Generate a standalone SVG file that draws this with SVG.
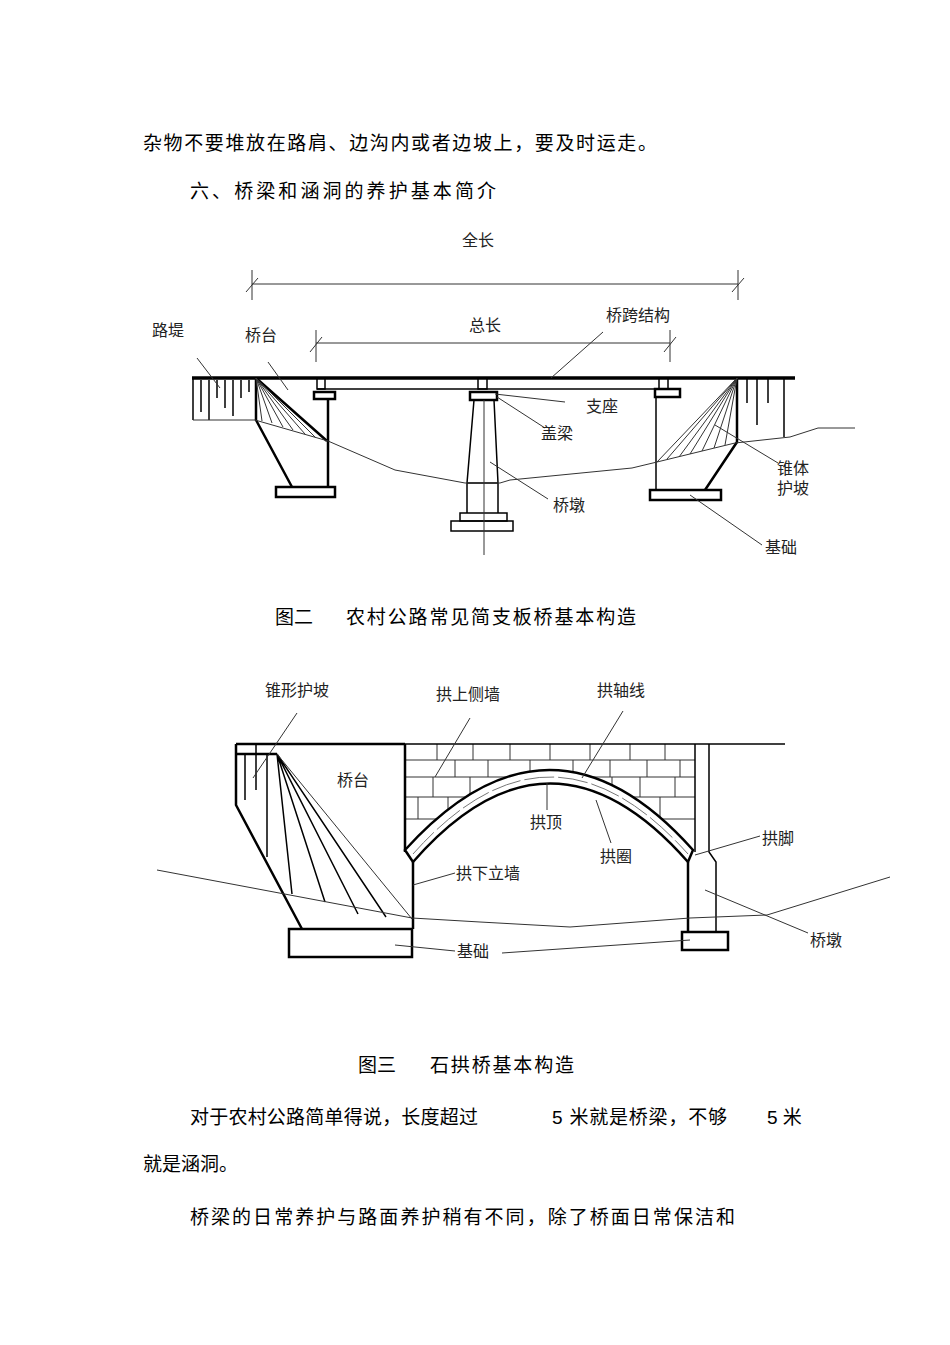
<svg xmlns="http://www.w3.org/2000/svg" width="950" height="1345" viewBox="0 0 950 1345">
<defs>
<style>
.t{font-family:"Liberation Sans","Noto Sans CJK SC",sans-serif;font-size:19px;fill:#000}
.l{font-family:"Liberation Sans","Noto Sans CJK SC",sans-serif;font-size:16px;fill:#222}
.k{stroke:#000;stroke-width:2.5;fill:none}
.m{stroke:#000;stroke-width:1.5;fill:none}
.n{stroke:#333;stroke-width:1;fill:none}
.w{stroke:#000;stroke-width:2.5;fill:#fff}
</style>
<clipPath id="mas"><path d="M405,744 H695 V852 L693,850 Q550,690 405,850 Z"/></clipPath>
</defs>
<rect width="950" height="1345" fill="#fff"/>
<g id="text">
<text class="t" x="143" y="150" textLength="514">杂物不要堆放在路肩、边沟内或者边坡上，要及时运走。</text>
<text class="t" x="190" y="198" textLength="306">六、桥梁和涵洞的养护基本简介</text>
<text class="t" x="275" y="624">图二</text>
<text class="t" x="346" y="624" textLength="290">农村公路常见简支板桥基本构造</text>
<text class="t" x="358" y="1072">图三</text>
<text class="t" x="430" y="1072" textLength="144">石拱桥基本构造</text>
<text class="t" x="190" y="1124" textLength="288">对于农村公路简单得说，长度超过</text>
<text class="t" x="552" y="1124" textLength="175">5 米就是桥梁，不够</text>
<text class="t" x="767" y="1124">5 米</text>
<text class="t" x="143" y="1171">就是涵洞。</text>
<text class="t" x="190" y="1224" textLength="545">桥梁的日常养护与路面养护稍有不同，除了桥面日常保洁和</text>
</g>
<g id="fig2">
<g id="dims" class="n">
<path d="M252,284 H738 M252,270 V300 M738,270 V300 M246,292 L258,278 M732,292 L744,278"/>
<path d="M316,343 H670 M316,330 V362 M670,330 V362 M310,352 L322,337 M664,352 L676,337"/>
</g>
<text class="l" x="462" y="246">全长</text>
<text class="l" x="469" y="331">总长</text>
<g id="deck1">
<path d="M192,378 H795" stroke="#000" stroke-width="3.5"/>
<path class="m" d="M317,389 H668"/>
</g>
<g id="leftbank" class="m">
<path d="M193,378 V420 M201,380 V412 M209,380 V420 M217,380 V398 M225,380 V408 M233,380 V416 M241,380 V398 M249,380 V392"/>
<path class="n" d="M193,420 H255"/>
</g>
<g id="leftabut">
<path class="k" d="M256,378 L256,420 L292,487 M256,378 L327,441"/>
<path class="n" d="M256,378 L262,421 M256,378 L272,423 M256,378 L283,427 M256,378 L293,430 M256,378 L305,434 M256,378 L316,438"/>
<path class="k" d="M328,393 V487"/>
<rect class="w" x="276" y="487" width="59" height="10"/>
<rect class="m" x="317" y="378" width="8" height="11"/>
<rect class="w" x="314" y="392" width="21" height="7"/>
</g>
<g id="pier1">
<rect class="m" x="478" y="378" width="9" height="11"/>
<rect class="w" x="470" y="392" width="27" height="8"/>
<path class="m" d="M474,400 L467,483 V513 M494,400 L498,483 V513 M467,483 H498"/>
<rect class="m" x="460" y="513" width="47" height="8"/>
<rect class="m" x="451" y="521" width="62" height="10"/>
<path class="n" d="M484,400 V555"/>
</g>
<g id="rightabut">
<rect class="m" x="659" y="378" width="9" height="11"/>
<rect class="w" x="655" y="389" width="25" height="8"/>
<path class="m" d="M656,397 V490"/>
<path class="k" d="M737,378 V442 L705,490"/>
<path class="n" d="M737,378 L657,462 M737,378 L667,459 M737,378 L679,457 M737,378 L690,454 M737,378 L702,451 M737,378 L714,448 M737,378 L725,445"/>
<rect class="w" x="650" y="490" width="71" height="10"/>
<path class="m" d="M747,378 V403 M757,378 V425 M768,378 V403 M784,378 V437"/>
</g>
<path id="ground1" class="n" d="M255,420 L328,441 L395,470 L465,483 L500,483 L510,480 L632,468 L657,462 L735,443 L790,437 L818,428 L855,428"/>
<g id="leaders1" class="n">
<path d="M197,358 L220,388 M268,362 L288,390 M603,332 L551,378 M495,394 L565,402 M497,397 L545,428 M490,462 L548,499 M715,425 L778,463 M690,495 L762,545"/>
</g>
<text class="l" x="152" y="336">路堤</text>
<text class="l" x="245" y="341">桥台</text>
<text class="l" x="606" y="321">桥跨结构</text>
<text class="l" x="586" y="412">支座</text>
<text class="l" x="541" y="439">盖梁</text>
<text class="l" x="553" y="511">桥墩</text>
<text class="l" x="777" y="474">锥体</text>
<text class="l" x="777" y="494">护坡</text>
<text class="l" x="765" y="553">基础</text>
</g>
<g id="fig3">
<g id="masonry" clip-path="url(#mas)" class="n">
<path d="M405,760 H695 M405,777 H695 M405,797 H695 M405,819 H695"/>
<path d="M437,744 V760 M473,744 V760 M510,744 V760 M550,744 V760 M590,744 V760 M630,744 V760 M665,744 V760"/>
<path d="M455,760 V777 M488,760 V777 M530,760 V777 M573,760 V777 M610,760 V777 M647,760 V777 M680,760 V777"/>
<path d="M433,777 V797 M470,777 V797 M612,777 V797 M640,777 V797 M675,777 V797"/>
<path d="M418,797 V819 M448,797 V819 M660,797 V819"/>
</g>
<g id="deck2">
<path class="k" d="M236,744 H405"/>
<path class="m" d="M405,744 H785"/>
</g>
<g id="leftabut2">
<path class="k" d="M236,744 V805 L302,929 M236,754 H277"/>
<path class="m" d="M245,754 V800 M256,744 V790 M267,754 V857 M277,754 L292,894 M277,754 L325,902 M277,754 L358,914 M277,754 L386,917"/>
<path class="n" d="M277,754 L412,919"/>
<path class="k" d="M405,744 V852 M413,862 V929"/>
<rect class="w" x="289" y="929" width="123" height="28"/>
</g>
<g id="arch">
<path class="w" d="M405,850 Q550,690 693,850 L688,862 Q550,705 413,862 Z"/>
<path d="M413,854 Q550,700 688,854" stroke="#777" stroke-width="1" fill="none" stroke-dasharray="30,4"/>
</g>
<g id="pier2">
<path class="m" d="M695,744 V852 M709,744 V852 L716,862 V932"/>
<path class="k" d="M688,862 V932"/>
<rect class="w" x="682" y="932" width="46" height="18"/>
</g>
<path id="ground2" class="n" d="M157,870 L412,918 L480,922 L570,927 L690,918 L767,915 L890,877"/>
<g id="leaders2" class="n">
<path d="M297,713 L253,778 M470,718 L435,777 M623,711 L582,778 M547,783 V810 M596,800 L611,843 M695,855 L760,836 M705,890 L808,933 M413,885 L455,873 M395,945 L455,951 M502,953 L690,940"/>
</g>
<text class="l" x="265" y="696">锥形护坡</text>
<text class="l" x="436" y="700">拱上侧墙</text>
<text class="l" x="597" y="696">拱轴线</text>
<text class="l" x="337" y="786">桥台</text>
<text class="l" x="530" y="828">拱顶</text>
<text class="l" x="600" y="862">拱圈</text>
<text class="l" x="762" y="844">拱脚</text>
<text class="l" x="456" y="879">拱下立墙</text>
<text class="l" x="810" y="946">桥墩</text>
<text class="l" x="457" y="957">基础</text>
</g>
</svg>
